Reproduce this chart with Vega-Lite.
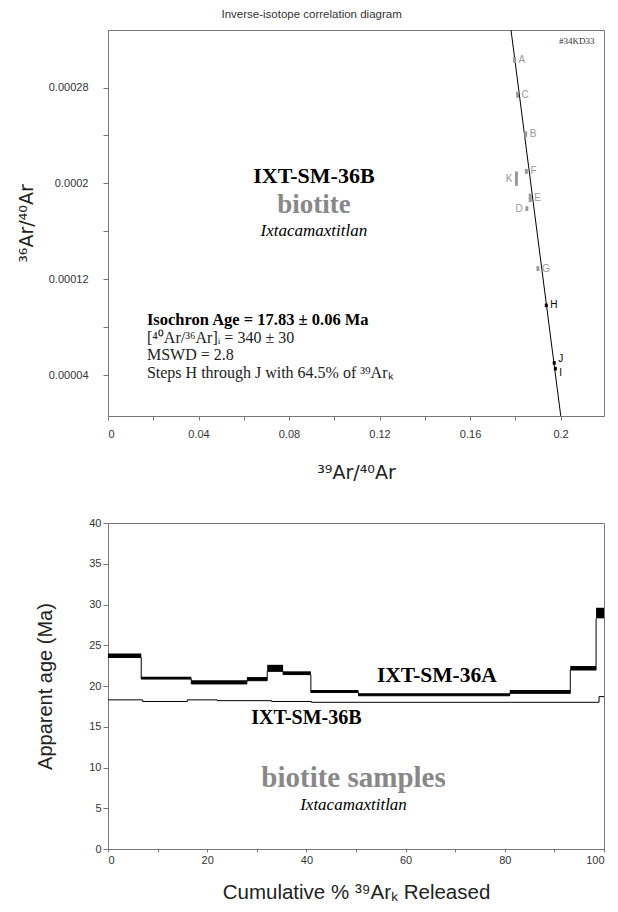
{
  "$schema": "https://vega.github.io/schema/vega-lite/v6.json",
  "background": "white",
  "padding": {"left": 16, "top": 9, "right": 8, "bottom": 4},
  "spacing": 33,
  "title": {"text": "Inverse-isotope correlation diagram", "font": "Liberation Sans", "fontSize": 11.5, "fontWeight": "normal", "color": "#333", "offset": 7, "anchor": "middle"},
  "config": {
    "view": {"stroke": "#777", "strokeWidth": 1},
    "axis": {"grid": false, "domainColor": "#777", "tickColor": "#777", "labelFont": "Liberation Sans", "labelFontSize": 11, "labelColor": "#333", "titleFont": "DejaVu Sans", "titleFontWeight": "normal", "titleColor": "#222"}
  },
  "datasets": {
    "steps": [
      {"step": "A", "x": 0.1797, "y": 0.000303, "err": 0.0000025, "used": "no"},
      {"step": "B", "x": 0.1846, "y": 0.000241, "err": 0.0000025, "used": "no"},
      {"step": "C", "x": 0.1810, "y": 0.000274, "err": 0.0000025, "used": "no"},
      {"step": "D", "x": 0.1851, "y": 0.000179, "err": 0.000002, "used": "no"},
      {"step": "E", "x": 0.1866, "y": 0.000188, "err": 0.0000035, "used": "no"},
      {"step": "F", "x": 0.1849, "y": 0.000210, "err": 0.000002, "used": "no"},
      {"step": "G", "x": 0.1900, "y": 0.000129, "err": 0.000002, "used": "no"},
      {"step": "H", "x": 0.1937, "y": 0.0000983, "err": 0.0000015, "used": "yes"},
      {"step": "I", "x": 0.1977, "y": 0.0000455, "err": 0.0000015, "used": "yes"},
      {"step": "J", "x": 0.1972, "y": 0.0000503, "err": 0.0000015, "used": "yes"},
      {"step": "K", "x": 0.1805, "y": 0.000204, "err": 0.000006, "used": "no"}
    ],
    "isochron": [
      {"x": 0.1781, "y": 0.000328},
      {"x": 0.2001, "y": 0.000006}
    ],
    "spectrumA": [
      {"start": 0, "end": 6.7, "lo": 23.5, "hi": 24.0},
      {"start": 6.7, "end": 16.8, "lo": 20.85, "hi": 21.15},
      {"start": 16.8, "end": 28.0, "lo": 20.25, "hi": 20.7},
      {"start": 28.0, "end": 32.1, "lo": 20.65, "hi": 21.1},
      {"start": 32.1, "end": 35.3, "lo": 21.8, "hi": 22.6},
      {"start": 35.3, "end": 40.9, "lo": 21.4, "hi": 21.8},
      {"start": 40.9, "end": 50.5, "lo": 19.2, "hi": 19.5},
      {"start": 50.5, "end": 81.0, "lo": 18.8, "hi": 19.1},
      {"start": 81.0, "end": 93.2, "lo": 19.1, "hi": 19.5},
      {"start": 93.2, "end": 98.4, "lo": 21.96, "hi": 22.45},
      {"start": 98.4, "end": 100, "lo": 28.3, "hi": 29.6}
    ],
    "spectrumB": [
      {"cum": 0, "age": 18.3},
      {"cum": 7, "age": 18.1},
      {"cum": 16, "age": 18.3},
      {"cum": 22, "age": 18.2},
      {"cum": 33, "age": 18.1},
      {"cum": 41, "age": 18.0},
      {"cum": 99, "age": 18.7},
      {"cum": 100, "age": 18.7}
    ],
    "one": [{}]
  },
  "vconcat": [
    {
      "width": 496,
      "height": 386,
      "layer": [
        {
          "data": {"name": "isochron"},
          "mark": {"type": "line", "color": "#000", "strokeWidth": 1},
          "encoding": {
            "x": {"field": "x", "type": "quantitative", "title": "³⁹Ar/⁴⁰Ar", "scale": {"domain": [0, 0.2192], "nice": false, "zero": false},
              "axis": {"titleFontSize": 19, "titlePadding": 24, "values": [0, 0.02, 0.04, 0.06, 0.08, 0.1, 0.12, 0.14, 0.16, 0.18, 0.2], "labelExpr": "round(datum.value*100) % 4 == 0 ? format(datum.value, '~g') : ''", "tickSize": 4, "labelPadding": 8}},
            "y": {"field": "y", "type": "quantitative", "title": "³⁶Ar/⁴⁰Ar", "scale": {"domain": [0.000006, 0.000328], "nice": false, "zero": false},
              "axis": {"titleFontSize": 19, "titlePadding": 12, "values": [0.00004, 0.00008, 0.00012, 0.00016, 0.0002, 0.00024, 0.00028], "labelExpr": "round(datum.value*100000) % 8 == 4 ? format(datum.value, '.5~f') : ''", "tickSize": 5, "labelPadding": 15}}
          }
        },
        {
          "data": {"name": "steps"},
          "transform": [{"filter": "datum.used == 'no'"}],
          "mark": {"type": "errorbar", "thickness": 3, "color": "#999"},
          "encoding": {
            "x": {"field": "x", "type": "quantitative", "title": "³⁹Ar/⁴⁰Ar"},
            "y": {"field": "y", "type": "quantitative", "title": "³⁶Ar/⁴⁰Ar"},
            "yError": {"field": "err"}
          }
        },
        {
          "data": {"name": "steps"},
          "transform": [{"filter": "datum.used == 'yes'"}],
          "mark": {"type": "errorbar", "thickness": 3, "color": "#000"},
          "encoding": {
            "x": {"field": "x", "type": "quantitative", "title": "³⁹Ar/⁴⁰Ar"},
            "y": {"field": "y", "type": "quantitative", "title": "³⁶Ar/⁴⁰Ar"},
            "yError": {"field": "err"}
          }
        },
        {
          "data": {"name": "steps"},
          "transform": [{"filter": "indexof(['A','B','C','E','F','G'], datum.step) >= 0"}],
          "mark": {"type": "text", "font": "Liberation Sans", "fontSize": 10, "align": "left", "baseline": "middle", "dx": 4, "color": "#999"},
          "encoding": {
            "x": {"field": "x", "type": "quantitative", "title": "³⁹Ar/⁴⁰Ar"},
            "y": {"field": "y", "type": "quantitative", "title": "³⁶Ar/⁴⁰Ar"},
            "text": {"field": "step"}
          }
        },
        {
          "data": {"name": "steps"},
          "transform": [{"filter": "datum.step == 'H'"}],
          "mark": {"type": "text", "font": "Liberation Sans", "fontSize": 10, "align": "left", "baseline": "middle", "dx": 4, "color": "#000"},
          "encoding": {
            "x": {"field": "x", "type": "quantitative", "title": "³⁹Ar/⁴⁰Ar"},
            "y": {"field": "y", "type": "quantitative", "title": "³⁶Ar/⁴⁰Ar"},
            "text": {"field": "step"}
          }
        },
        {
          "data": {"name": "steps"},
          "transform": [{"filter": "indexof(['D','K'], datum.step) >= 0"}],
          "mark": {"type": "text", "font": "Liberation Sans", "fontSize": 10, "align": "right", "baseline": "middle", "dx": -4, "color": "#999"},
          "encoding": {
            "x": {"field": "x", "type": "quantitative", "title": "³⁹Ar/⁴⁰Ar"},
            "y": {"field": "y", "type": "quantitative", "title": "³⁶Ar/⁴⁰Ar"},
            "text": {"field": "step"}
          }
        },
        {
          "data": {"name": "steps"},
          "transform": [{"filter": "datum.step == 'J'"}],
          "mark": {"type": "text", "font": "Liberation Sans", "fontSize": 10, "align": "left", "baseline": "middle", "dx": 4, "dy": -4, "color": "#000"},
          "encoding": {
            "x": {"field": "x", "type": "quantitative", "title": "³⁹Ar/⁴⁰Ar"},
            "y": {"field": "y", "type": "quantitative", "title": "³⁶Ar/⁴⁰Ar"},
            "text": {"field": "step"}
          }
        },
        {
          "data": {"name": "steps"},
          "transform": [{"filter": "datum.step == 'I'"}],
          "mark": {"type": "text", "font": "Liberation Sans", "fontSize": 10, "align": "left", "baseline": "middle", "dx": 4, "dy": 4, "color": "#000"},
          "encoding": {
            "x": {"field": "x", "type": "quantitative", "title": "³⁹Ar/⁴⁰Ar"},
            "y": {"field": "y", "type": "quantitative", "title": "³⁶Ar/⁴⁰Ar"},
            "text": {"field": "step"}
          }
        },
        {
          "data": {"name": "one"},
          "mark": {"type": "text", "font": "Liberation Serif", "fontSize": 9, "color": "#333"},
          "encoding": {"x": {"datum": 0.2072}, "y": {"datum": 0.0003186}, "text": {"value": "#34KD33"}}
        },
        {
          "data": {"name": "one"},
          "mark": {"type": "text", "font": "Liberation Serif", "fontSize": 22, "fontWeight": "bold", "color": "#000"},
          "encoding": {"x": {"datum": 0.091}, "y": {"datum": 0.000206}, "text": {"value": "IXT-SM-36B"}}
        },
        {
          "data": {"name": "one"},
          "mark": {"type": "text", "font": "Liberation Serif", "fontSize": 27, "fontWeight": "bold", "color": "#888"},
          "encoding": {"x": {"datum": 0.091}, "y": {"datum": 0.0001822}, "text": {"value": "biotite"}}
        },
        {
          "data": {"name": "one"},
          "mark": {"type": "text", "font": "Liberation Serif", "fontSize": 17, "fontStyle": "italic", "color": "#000"},
          "encoding": {"x": {"datum": 0.091}, "y": {"datum": 0.0001603}, "text": {"value": "Ixtacamaxtitlan"}}
        },
        {
          "data": {"name": "one"},
          "mark": {"type": "text", "font": "Liberation Serif", "fontSize": 16.5, "fontWeight": "bold", "align": "left", "color": "#000"},
          "encoding": {"x": {"datum": 0.0172}, "y": {"datum": 0.0000861}, "text": {"value": "Isochron Age = 17.83 ± 0.06 Ma"}}
        },
        {
          "data": {"name": "one"},
          "mark": {"type": "text", "font": "Liberation Serif", "fontSize": 16, "align": "left", "color": "#222"},
          "encoding": {"x": {"datum": 0.0172}, "y": {"datum": 0.0000711}, "text": {"value": "[⁴⁰Ar/³⁶Ar]ᵢ = 340 ± 30"}}
        },
        {
          "data": {"name": "one"},
          "mark": {"type": "text", "font": "Liberation Serif", "fontSize": 16, "align": "left", "color": "#222"},
          "encoding": {"x": {"datum": 0.0172}, "y": {"datum": 0.000057}, "text": {"value": "MSWD = 2.8"}}
        },
        {
          "data": {"name": "one"},
          "mark": {"type": "text", "font": "Liberation Serif", "fontSize": 16, "align": "left", "color": "#222"},
          "encoding": {"x": {"datum": 0.0172}, "y": {"datum": 0.000042}, "text": {"value": "Steps H through J with 64.5% of  ³⁹Arₖ"}}
        }
      ]
    },
    {
      "width": 496,
      "height": 326,
      "layer": [
        {
          "data": {"name": "spectrumA"},
          "mark": {"type": "rect", "color": "#000"},
          "encoding": {
            "x": {"field": "start", "type": "quantitative", "title": "Cumulative %  ³⁹Arₖ Released", "scale": {"domain": [0, 100], "nice": false},
              "axis": {"titleFont": "Liberation Sans", "titleFontSize": 20.5, "titlePadding": 17, "values": [0, 10, 20, 30, 40, 50, 60, 70, 80, 90, 100], "labelExpr": "datum.value % 20 == 0 ? datum.label : ''", "tickSize": 3, "labelPadding": 2}},
            "x2": {"field": "end"},
            "y": {"field": "lo", "type": "quantitative", "title": "Apparent age (Ma)", "scale": {"domain": [0, 40], "nice": false},
              "axis": {"titleFont": "Liberation Sans", "titleFontSize": 20, "titlePadding": 33, "values": [0, 5, 10, 15, 20, 25, 30, 35, 40], "tickSize": 5, "labelPadding": 2}},
            "y2": {"field": "hi"}
          }
        },
        {
          "data": {"name": "spectrumA"},
          "mark": {"type": "line", "color": "#000", "strokeWidth": 1, "interpolate": "step-after"},
          "encoding": {
            "x": {"field": "start", "type": "quantitative", "title": "Cumulative %  ³⁹Arₖ Released"},
            "y": {"field": "lo", "type": "quantitative", "title": "Apparent age (Ma)"}
          }
        },
        {
          "data": {"name": "spectrumB"},
          "mark": {"type": "line", "color": "#000", "strokeWidth": 1, "interpolate": "step-after"},
          "encoding": {
            "x": {"field": "cum", "type": "quantitative", "title": "Cumulative %  ³⁹Arₖ Released"},
            "y": {"field": "age", "type": "quantitative", "title": "Apparent age (Ma)"}
          }
        },
        {
          "data": {"name": "one"},
          "mark": {"type": "text", "font": "Liberation Serif", "fontSize": 21.5, "fontWeight": "bold", "color": "#000"},
          "encoding": {"x": {"datum": 66.3}, "y": {"datum": 21.2}, "text": {"value": "IXT-SM-36A"}}
        },
        {
          "data": {"name": "one"},
          "mark": {"type": "text", "font": "Liberation Serif", "fontSize": 20, "fontWeight": "bold", "color": "#000"},
          "encoding": {"x": {"datum": 40}, "y": {"datum": 16.1}, "text": {"value": "IXT-SM-36B"}}
        },
        {
          "data": {"name": "one"},
          "mark": {"type": "text", "font": "Liberation Serif", "fontSize": 29, "fontWeight": "bold", "color": "#888"},
          "encoding": {"x": {"datum": 49.5}, "y": {"datum": 8.7}, "text": {"value": "biotite samples"}}
        },
        {
          "data": {"name": "one"},
          "mark": {"type": "text", "font": "Liberation Serif", "fontSize": 17, "fontStyle": "italic", "color": "#000"},
          "encoding": {"x": {"datum": 49.5}, "y": {"datum": 5.4}, "text": {"value": "Ixtacamaxtitlan"}}
        }
      ]
    }
  ]
}
